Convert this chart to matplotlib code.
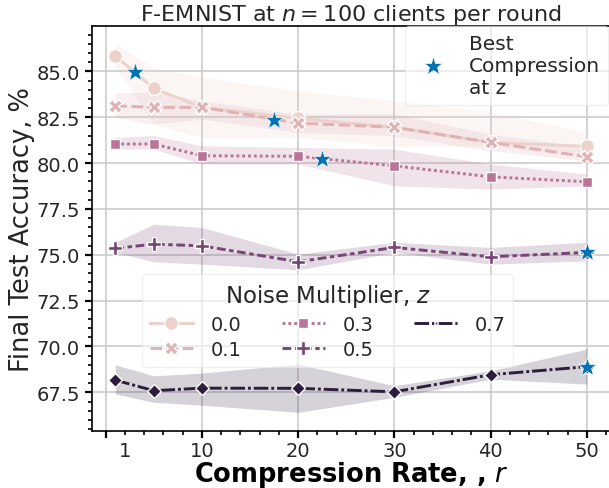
import matplotlib
matplotlib.use("Agg")
import matplotlib.pyplot as plt
from matplotlib.lines import Line2D
from matplotlib.ticker import MultipleLocator, FixedLocator, FixedFormatter, NullFormatter
import seaborn as sns

# compression rates on the x axis
rates = [1, 5, 10, 20, 30, 40, 50]
noise_levels = [0.0, 0.1, 0.3, 0.5, 0.7]
noise_labels = ["0.0", "0.1", "0.3", "0.5", "0.7"]

# mean accuracy per noise multiplier
acc_00 = [85.85, 84.07, 83.04, 82.44, 81.95, 81.13, 80.91]
acc_01 = [83.12, 83.04, 83.04, 82.18, 81.95, 81.13, 80.34]
acc_03 = [81.04, 81.04, 80.40, 80.37, 79.85, 79.25, 78.98]
acc_05 = [75.35, 75.58, 75.49, 74.62, 75.40, 74.89, 75.13]
acc_07 = [68.17, 67.59, 67.73, 67.72, 67.53, 68.46, 68.90]

# confidence band (lower / upper)
lo_00 = [85.30, 82.10, 81.40, 81.40, 80.90, 80.95, 80.30]
hi_00 = [86.50, 85.22, 84.67, 83.94, 83.40, 82.80, 81.67]
lo_01 = [82.49, 82.13, 82.40, 81.67, 81.49, 80.67, 80.13]
hi_01 = [83.86, 83.86, 83.40, 82.67, 82.67, 81.58, 80.86]
lo_03 = [80.76, 80.76, 79.95, 79.95, 78.76, 78.58, 78.76]
hi_03 = [81.40, 81.50, 80.94, 80.85, 80.76, 79.95, 79.40]
lo_05 = [75.13, 74.62, 74.49, 74.18, 75.13, 74.49, 74.67]
hi_05 = [75.68, 76.67, 76.49, 75.04, 75.68, 75.40, 75.68]
lo_07 = [67.41, 66.96, 66.80, 66.41, 67.23, 68.22, 67.95]
hi_07 = [69.00, 68.40, 68.55, 69.04, 67.86, 68.68, 69.86]

# best compression per noise level
best_rate = [3, 17.5, 22.5, 50, 50]
best_acc = [84.96, 82.35, 80.24, 75.13, 68.90]

means = [acc_00, acc_01, acc_03, acc_05, acc_07]
lows = [lo_00, lo_01, lo_03, lo_05, lo_07]
highs = [hi_00, hi_01, hi_03, hi_05, hi_07]
markers = ["o", "X", (4, 0, 45), "P", (4, 0, 0)]
dashes = [(None, None), (4, 1.5), (1, 1), (3, 1.25, 1.5, 1.25), (5, 1, 1, 1)]

cmap = sns.cubehelix_palette(as_cmap=True)
colors = [cmap(z / max(noise_levels)) for z in noise_levels]

fig = plt.figure(figsize=(6.09, 4.89), dpi=100)
ax = fig.add_axes([0.1506, 0.1172, 0.8516, 0.8282])

ax.grid(True, color="#cccccc", linewidth=1.2)
ax.set_axisbelow(True)

handles = []
for i in range(len(noise_levels)):
    ax.fill_between(rates, lows[i], highs[i], color=colors[i], alpha=0.2, linewidth=0, zorder=1)
for i in range(len(noise_levels)):
    ln, = ax.plot(rates, means[i], color=colors[i], lw=2.1, marker=markers[i], ms=10,
                  mec="white", mew=1, zorder=3)
    if dashes[i][0] is not None:
        ln.set_dashes(dashes[i])
    h = Line2D([], [], color=colors[i], lw=2.1, marker=markers[i],
               ms=10 if i < 4 else 3, mec="white", mew=1)
    if dashes[i][0] is not None:
        h.set_dashes(dashes[i])
    handles.append(h)

stars, = ax.plot(best_rate, best_acc, linestyle="none", marker="*", ms=14,
                 color="#0173b2", mec="white", mew=0.5, zorder=5)

ax.set_xlim(-1.45, 52.45)
ax.set_ylim(65.41, 87.49)

ax.xaxis.set_major_locator(FixedLocator([0, 10, 20, 30, 40, 50]))
ax.xaxis.set_major_formatter(FixedFormatter(["", "10", "20", "30", "40", "50"]))
minor_pos = [p for p in range(0, 53, 2) if p % 10 != 0]
ax.xaxis.set_minor_locator(FixedLocator(minor_pos))
ax.xaxis.set_minor_formatter(FixedFormatter(["1" if p == 2 else "" for p in minor_pos]))
ax.yaxis.set_major_locator(MultipleLocator(2.5))
ax.yaxis.set_minor_locator(MultipleLocator(0.5))
ax.yaxis.set_minor_formatter(NullFormatter())

ax.tick_params(which="major", direction="out", length=5, width=1.6, labelsize=14,
               color="black", labelcolor="#262626", pad=3.5)
ax.tick_params(which="minor", direction="out", length=3, width=1.2, labelsize=14,
               color="black", labelcolor="#262626", pad=5.5)
ax.tick_params(axis="x", which="major", pad=2.5)
ax.tick_params(axis="x", which="minor", pad=4.5)

for s in ["left", "bottom", "top"]:
    ax.spines[s].set_color("black")
    ax.spines[s].set_linewidth(1.2)
ax.spines["right"].set_visible(False)

ax.set_xlabel("Compression Rate, , $r$", fontsize=18.5, fontweight="bold", labelpad=-1)
ax.set_ylabel("Final Test Accuracy, %", fontsize=18.5, color="#262626", labelpad=1)
ax.set_title("F-EMNIST at $n = 100$ clients per round", fontsize=16, color="#262626", pad=1)

leg1 = ax.legend([Line2D([], [], linestyle="none", marker="*", ms=14, color="#0173b2", mec="white", mew=0.5)],
                 ["Best\nCompression\nat z"], loc="upper right", bbox_to_anchor=(0.996, 1.0),
                 borderaxespad=0, fontsize=14.5, framealpha=0.6, edgecolor="#e6e6e6",
                 handletextpad=0.8, borderpad=0.4, labelcolor="#262626")
ax.add_artist(leg1)

leg2 = ax.legend(handles, noise_labels, title="Noise Multiplier, $z$", ncol=3,
                 loc="center", bbox_to_anchor=(0.455, 0.272), fontsize=14,
                 title_fontsize=16.5, framealpha=0.6, edgecolor="#e6e6e6",
                 handlelength=2.2, handletextpad=0.9, labelspacing=0.3,
                 columnspacing=2.1, borderpad=0.4, labelcolor="#262626")
leg2.get_title().set_color("#262626")

fig.savefig("out.png", dpi=100)
